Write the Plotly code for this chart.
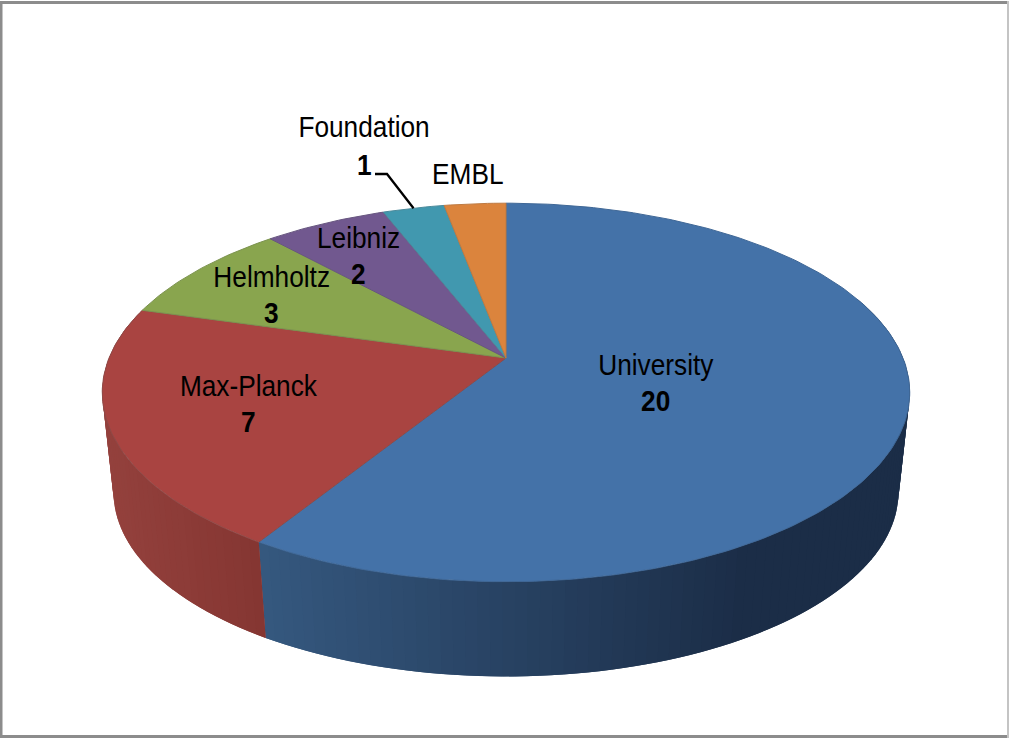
import numpy as np
import plotly.graph_objects as go

categories = ["University", "Max-Planck", "Helmholtz", "Leibniz", "Foundation", "EMBL"]
values = [20, 7, 3, 2, 1, 1]
colors = ["#4472A8", "#A94441", "#89A54E", "#71588F", "#4198AF", "#DB843D"]
edge_colors = ["#3F6796", "#8F4A48", "#7C9350", "#67567F", "#4A8A9B", "#BE7A42"]
label_xy = [(655.5, 364), (248.5, 385), (271, 276), (358, 237), (363.5, 126), (468, 173)]
value_xy = [(655, 400), (248, 421), (271, 312), (358, 273), (364, 164), None]

W, H = 1009, 738
CX, CY, A, B, K = 506.0, 358.0, 397.0, 183.0, 0.182
SCALE_BOTTOM, CY_BOTTOM = 0.972, 459.0


def project(theta, r=1.0, s=1.0, cy=CY):
    X = r * np.sin(theta)
    Y = r * np.cos(theta)
    d = 1 + K * Y
    return CX + s * A * X / d, cy - s * B * Y / d


def hexmix(c1, c2, t):
    a = [int(c1[i:i + 2], 16) for i in (1, 3, 5)]
    b = [int(c2[i:i + 2], 16) for i in (1, 3, 5)]
    return "#%02x%02x%02x" % tuple(int(round(p + (q - p) * t)) for p, q in zip(a, b))


total = sum(values)
cum = np.concatenate([[0], np.cumsum(values)]) / total * 2 * np.pi

fig = go.Figure()


def poly(xs, ys, fill, line, lw=1):
    fig.add_trace(go.Scatter(x=list(xs), y=list(ys), mode="lines", fill="toself",
                             fillcolor=fill, line=dict(color=line, width=lw),
                             hoverinfo="skip", showlegend=False))


def side_color(i, x):
    if i == 0:
        t = np.clip((x - 265) / (740 - 265), 0, 1)
        return hexmix("#35587F", "#1B2D47", t)
    t = np.clip((x - 113) / (265 - 113), 0, 1)
    return hexmix("#94413D", "#853632", t)


# side wall of the two visible front slices (each strip overlaps the next, so no seams)
for i in (0, 1):
    t0, t1 = cum[i], cum[i + 1]
    t0 = max(t0, np.radians(70)) if i == 0 else t0
    edges = np.linspace(t0, t1, int((t1 - t0) / np.radians(1.5)) + 2)
    seq = list(zip(edges[:-1], edges[1:]))
    if i == 1:
        seq = seq[::-1]
    for a0, a1 in seq:
        lo, hi = (a0, min(a1 + np.radians(1.5), t1)) if i == 0 else (max(a0 - np.radians(1.5), t0), a1)
        x0, y0 = project(lo)
        x1, y1 = project(hi)
        x2, y2 = project(hi, s=SCALE_BOTTOM, cy=CY_BOTTOM)
        x3, y3 = project(lo, s=SCALE_BOTTOM, cy=CY_BOTTOM)
        xm, _ = project((a0 + a1) / 2, s=SCALE_BOTTOM, cy=CY_BOTTOM)
        c = side_color(i, xm)
        poly([x0, x1, x2, x3, x0], [y0, y1, y2, y3, y0], c, c, 0)

# top faces
for i, cat in enumerate(categories):
    th = np.linspace(cum[i], cum[i + 1], max(int((cum[i + 1] - cum[i]) / np.radians(1)), 2) + 1)
    px, py = project(th)
    poly(np.r_[CX, px, CX], np.r_[CY, py, CY], colors[i], edge_colors[i], 1)

# leader line for the Foundation label
mid = (cum[4] + cum[5]) / 2
lx, ly = project(mid)
fig.add_trace(go.Scatter(x=[375, 387, lx], y=[174, 174, ly], mode="lines",
                         line=dict(color="#000000", width=2.3),
                         hoverinfo="skip", showlegend=False))

FONT = "Liberation Sans, Arial, sans-serif"
for i, cat in enumerate(categories):
    fig.add_annotation(x=label_xy[i][0], y=label_xy[i][1], text=cat, showarrow=False,
                       font=dict(family=FONT, size=30, color="#000000"))
    if value_xy[i] is not None:
        fig.add_annotation(x=value_xy[i][0], y=value_xy[i][1], text="<b>%d</b>" % values[i],
                           showarrow=False, font=dict(family=FONT, size=30, color="#000000"))

frame = [
    dict(x0=0, x1=W, y0=2.5, y1=2.5, c="#8C8C8C", w=3),
    dict(x0=1, x1=1, y0=1, y1=H, c="#8C8C8C", w=3),
    dict(x0=0, x1=W, y0=736.5, y1=736.5, c="#8C8C8C", w=3),
    dict(x0=1008, x1=1008, y0=1, y1=H, c="#C4C4C4", w=2),
]
for f in frame:
    fig.add_shape(type="line", x0=f["x0"], x1=f["x1"], y0=f["y0"], y1=f["y1"],
                  line=dict(color=f["c"], width=f["w"]), layer="above")

fig.update_layout(width=W, height=H, margin=dict(l=0, r=0, t=0, b=0),
                  paper_bgcolor="#FFFFFF", plot_bgcolor="#FFFFFF", showlegend=False,
                  xaxis=dict(range=[0, W], visible=False, fixedrange=True),
                  yaxis=dict(range=[H, 0], visible=False, fixedrange=True))

NARROW = """
document.body.style.margin='0';document.body.style.overflow='hidden';
document.querySelectorAll('.annotation-text').forEach(function(t){
  var b=t.getBBox(); var c=b.x+b.width/2;
  var old=t.getAttribute('transform')||'';
  t.setAttribute('transform',old+' translate('+c+',0) scale(0.875,1) translate('+(-c)+',0)');
});
"""
fig.write_html("out.html", post_script=NARROW, config={"displayModeBar": False})
